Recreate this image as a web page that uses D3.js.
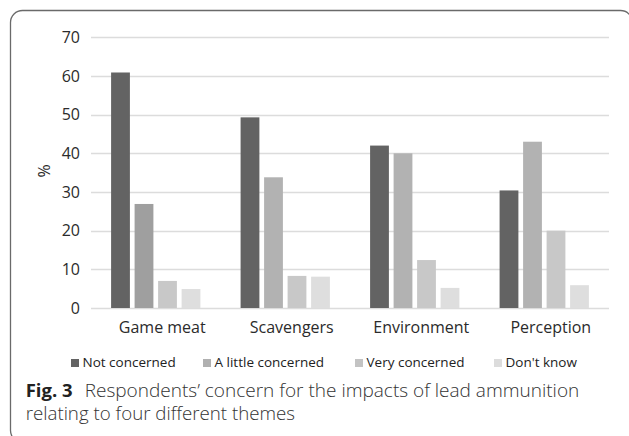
<!DOCTYPE html>
<html>
<head>
<meta charset="utf-8">
<script src="https://cdn.jsdelivr.net/npm/d3@7"></script>
<style>
  html, body { margin: 0; padding: 0; background: #fff; }
  svg { display: block; }
  text { font-family: "Open Sans", "Noto Sans", sans-serif; }
</style>
</head>
<body>
<svg id="chart" width="629" height="436"></svg>
<script>
// Themes on the x axis
const categories = ["Game meat", "Scavengers", "Environment", "Perception"];
// Response levels (legend order)
const series = ["Not concerned", "A little concerned", "Very concerned", "Don't know"];
// Percentage of respondents, one array per response level, in theme order
const notConcerned     = [60.9, 49.3, 42.0, 30.4];
const aLittleConcerned = [26.9, 33.8, 40.0, 43.0];
const veryConcerned    = [7.0, 8.3, 12.4, 20.0];
const dontKnow         = [4.9, 8.1, 5.2, 5.9];
const yTicks = [0, 10, 20, 30, 40, 50, 60, 70];

const values = [notConcerned, aLittleConcerned, veryConcerned, dontKnow];

const seriesColor = d3.scaleOrdinal()
  .domain(series)
  .range(["#636363", "#b2b2b2", "#c8c8c8", "#dedede"]);
// the game-meat "a little concerned" bar is drawn in a darker grey
const barColorOverride = { "Game meat|A little concerned": "#9f9f9f" };
const legendSwatch = ["#636363", "#b0b0b0", "#c3c3c3", "#dcdcdc"];

const svg = d3.select("#chart");

// rounded frame around figure
svg.append("rect")
  .attr("x", 10.5).attr("y", 10.5)
  .attr("width", 622).attr("height", 432)
  .attr("rx", 12).attr("ry", 12)
  .attr("fill", "none")
  .attr("stroke", "#6a6a6a")
  .attr("stroke-width", 1.3);

const plot = { left: 91, right: 609, top: 37.3, bottom: 308 };

const y = d3.scaleLinear().domain([0, 70]).range([plot.bottom, plot.top]);
const x0 = d3.scaleBand().domain(categories)
  .range([plot.left, plot.right])
  .paddingInner(0.274).paddingOuter(0.137);
const x1 = d3.scaleBand().domain(series)
  .range([0, x0.bandwidth()])
  .paddingInner(0.2).paddingOuter(0.1);

// gridlines
svg.append("g")
  .selectAll("line")
  .data(yTicks)
  .join("line")
  .attr("x1", plot.left).attr("x2", plot.right)
  .attr("y1", d => Math.round(y(d)) + 0.5)
  .attr("y2", d => Math.round(y(d)) + 0.5)
  .attr("stroke", "#dcdcdc")
  .attr("stroke-width", 1.3);

// y axis labels
const yAxis = d3.axisLeft(y).tickValues(yTicks).tickSize(0).tickPadding(0);
const yg = svg.append("g").attr("transform", `translate(80,0)`).call(yAxis);
yg.select(".domain").remove();
yg.selectAll("text")
  .attr("font-size", 16)
  .attr("fill", "#2b2b2b")
  .style("font-family", "'Open Sans', sans-serif");

// bars
const rows = categories.map((c, i) => ({
  cat: c,
  bars: series.map((s, j) => ({ cat: c, s, v: values[j][i] }))
}));

svg.append("g")
  .selectAll("g")
  .data(rows)
  .join("g")
  .attr("transform", d => `translate(${x0(d.cat)},0)`)
  .selectAll("rect")
  .data(d => d.bars)
  .join("rect")
  .attr("x", d => x1(d.s))
  .attr("width", x1.bandwidth())
  .attr("y", d => y(d.v))
  .attr("height", d => y(0) - y(d.v))
  .attr("fill", d => barColorOverride[d.cat + "|" + d.s] || seriesColor(d.s));

// x axis labels
const xAxis = d3.axisBottom(x0).tickSize(0).tickPadding(0);
const xg = svg.append("g").attr("transform", `translate(6.5,${plot.bottom})`).call(xAxis);
xg.select(".domain").remove();
xg.selectAll("text")
  .attr("y", 0).attr("dy", 0)
  .attr("transform", "translate(0,25)")
  .attr("font-size", 16)
  .attr("fill", "#2b2b2b")
  .style("font-family", "'Open Sans', sans-serif");

// y axis title
svg.append("text")
  .attr("transform", `translate(50,171) rotate(-90)`)
  .attr("text-anchor", "middle")
  .attr("font-size", 16)
  .attr("fill", "#2b2b2b")
  .text("%");

// legend
const legendX = [71, 203, 355, 494];
const lg = svg.append("g")
  .selectAll("g")
  .data(series)
  .join("g")
  .attr("transform", (d, i) => `translate(${legendX[i]},0)`);
lg.append("rect")
  .attr("x", 0).attr("y", 359)
  .attr("width", 8).attr("height", 8)
  .attr("fill", (d, i) => legendSwatch[i]);
lg.append("text")
  .attr("x", 11.5).attr("y", 367)
  .attr("font-size", 13.5)
  .attr("fill", "#222")
  .text(d => d);

// figure caption
const cap1 = svg.append("text")
  .attr("x", 25.7).attr("y", 397)
  .attr("font-size", 18.5)
  .attr("fill", "#333");
cap1.append("tspan")
  .attr("font-weight", 700)
  .attr("fill", "#222")
  .text("Fig. 3");
cap1.append("tspan")
  .attr("x", 84.7)
  .attr("font-weight", 300)
  .attr("textLength", 494.6)
  .attr("lengthAdjust", "spacingAndGlyphs")
  .text("Respondents’ concern for the impacts of lead ammunition");

svg.append("text")
  .attr("x", 25.7).attr("y", 420)
  .attr("font-size", 18.5)
  .attr("font-weight", 300)
  .attr("fill", "#333")
  .attr("textLength", 269.3)
  .attr("lengthAdjust", "spacingAndGlyphs")
  .text("relating to four different themes");
</script>
</body>
</html>
